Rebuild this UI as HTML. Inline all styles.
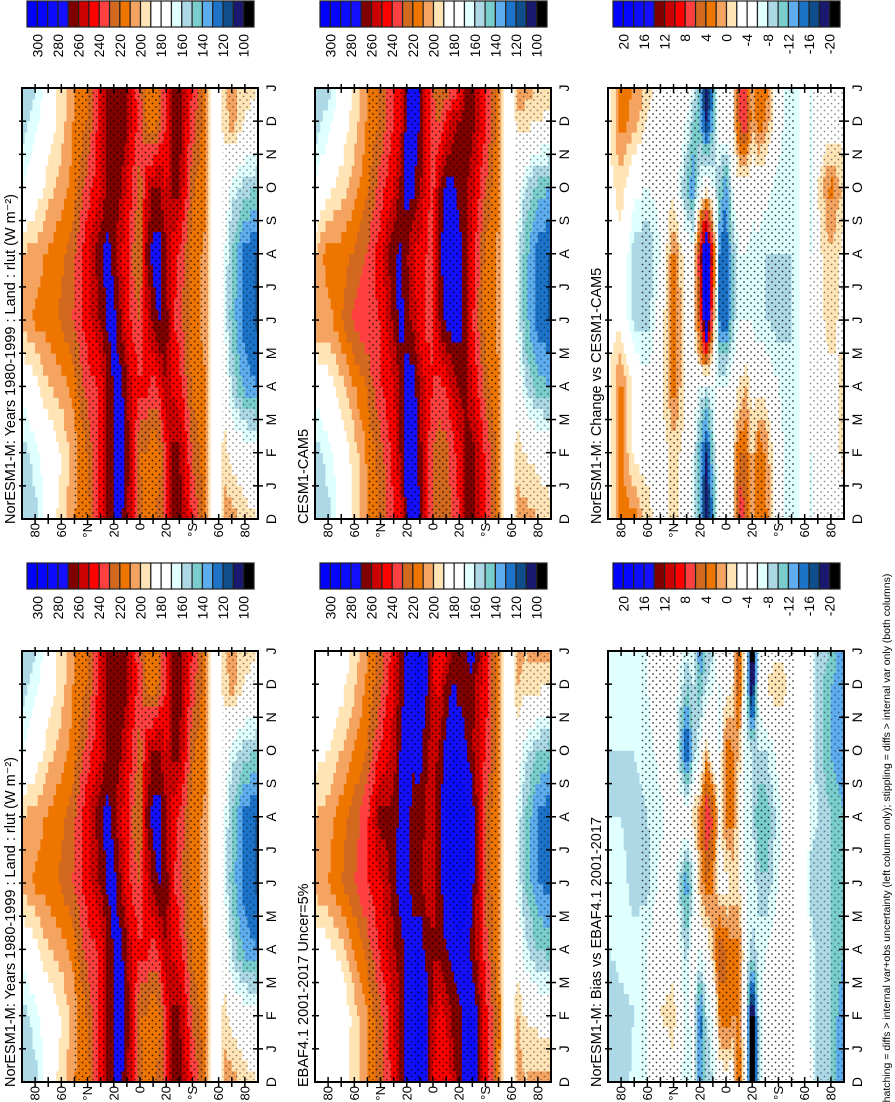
<!DOCTYPE html>
<html><head><meta charset="utf-8"><title>rlut land zonal-mean seasonal cycle</title>
<style>
html,body{margin:0;padding:0;background:#fff;}
svg{display:block;font-family:"Liberation Sans",Arial,sans-serif;}
</style></head>
<body>
<svg id="fig" width="895" height="1102" viewBox="0 0 895 1102" xmlns="http://www.w3.org/2000/svg">
<defs>
<pattern id="stip" width="7" height="7" patternUnits="userSpaceOnUse"><circle cx="2" cy="2" r="0.9" fill="#000"/><circle cx="5.5" cy="5.5" r="0.9" fill="#000"/></pattern>
</defs>
</svg>
<script>
// ---- data grid ----
const LATS = [90,80,70,60,50,40,30,25,20,15,10,5,0,-5,-10,-15,-20,-25,-30,-40,-50,-55,-60,-65,-70,-80,-90];
const TIMES = [0,2,4,6,8,10,12,13]; // months since Dec
const MONTHS = ['D','J','F','M','A','M','J','J','A','S','O','N','D','J'];
const LAT_TICKS = [80,60,40,20,0,-20,-40,-60,-80];
const LAT_LABELS = ['80','60','°N','20','0','20','°S','60','80'];
const ABS_LABELS = ['300','280','260','240','220','200','180','160','140','120','100'];
const DIFF_LABELS = ['20','16','12','8','4','0','-4','-8','-12','-16','-20'];

const noresm = [
[150,155,175,205,200,170,155,152],
[155,165,185,212,205,180,165,158],
[180,178,200,215,212,195,182,180],
[195,190,205,222,218,205,195,195],
[210,205,215,232,228,215,212,210],
[215,222,235,245,248,235,220,218],
[245,245,242,262,268,248,248,248],
[262,262,260,272,275,262,262,262],
[270,272,272,275,265,270,265,265],
[275,275,275,262,250,262,268,270],
[262,265,262,245,245,248,262,262],
[248,245,248,235,228,238,245,245],
[225,218,242,228,220,225,235,232],
[215,218,245,248,262,248,218,215],
[218,208,235,265,275,262,210,210],
[225,218,245,272,275,262,225,225],
[238,242,262,265,262,248,240,240],
[262,262,248,242,245,262,262,262],
[265,262,245,235,238,262,265,265],
[240,228,218,215,215,222,235,238],
[215,215,212,205,208,212,215,215],
[185,185,185,185,185,185,185,185],
[185,185,185,185,185,185,185,185],
[205,195,182,165,168,180,195,200],
[205,185,158,145,150,165,205,205],
[195,180,135,125,125,155,188,195],
[190,175,130,118,118,150,185,190]];

const cesm = [
[150,155,175,210,200,170,155,150],
[155,165,185,205,215,185,165,155],
[178,180,195,220,215,195,180,178],
[192,195,210,232,222,205,195,192],
[210,212,222,238,232,218,212,210],
[222,225,240,240,245,235,222,222],
[238,245,248,262,270,248,240,240],
[245,260,262,275,272,262,248,245],
[275,275,275,265,262,275,275,275],
[278,278,276,255,250,272,278,278],
[272,265,260,245,245,262,270,272],
[248,245,245,238,240,245,248,248],
[228,230,240,238,235,235,235,230],
[220,222,238,262,268,262,228,222],
[225,225,242,275,278,272,240,225],
[232,235,252,278,280,275,255,232],
[240,245,262,276,278,262,262,240],
[262,262,262,262,262,262,262,262],
[265,265,250,242,245,255,265,265],
[240,238,225,215,218,230,240,240],
[215,215,210,208,208,210,215,215],
[185,185,185,185,185,185,185,185],
[185,185,185,185,185,185,185,185],
[205,195,180,165,165,175,195,205],
[205,190,160,145,145,160,195,205],
[200,185,145,125,125,145,190,200],
[195,180,140,118,118,140,185,195]];

const ebaf = [
[170,175,180,205,200,185,175,170],
[170,175,185,210,205,190,178,172],
[180,178,195,220,215,200,185,180],
[195,195,210,230,225,210,198,195],
[210,210,225,240,238,222,212,210],
[225,228,242,248,265,240,228,225],
[245,248,258,265,262,255,248,245],
[265,262,265,275,275,270,265,265],
[275,275,275,280,280,275,275,275],
[280,280,280,262,262,275,280,280],
[285,285,280,262,265,275,285,285],
[275,278,265,255,258,262,272,275],
[250,255,262,255,258,255,250,250],
[245,245,262,265,268,262,248,245],
[240,250,270,280,282,275,262,245],
[255,262,275,285,285,280,272,258],
[265,265,280,285,285,280,265,265],
[275,278,275,285,285,272,262,270],
[285,285,265,275,278,262,262,282],
[245,245,235,228,228,240,245,245],
[215,218,212,210,210,215,215,215],
[185,185,185,185,185,185,185,185],
[185,185,185,185,185,185,185,185],
[205,200,180,165,165,178,200,205],
[200,190,165,150,150,165,195,200],
[205,185,150,130,128,150,195,205],
[205,180,145,125,122,145,190,205]];

const changeVsCesm = [
[-3,-3,-3,-3,-3,-3,-3,-3],
[3,3,3,-3,-3,-1,3,3],
[3,-3,-3,-9,-9,-5,1,2],
[-1,-3,-5,-9,-10,-6,-2,-1],
[-3,-4,-3,-4,-6,-5,-4,-3],
[-1,-1,3,4,3,-3,-3,-2],
[-3,-3,-3,-3,-4,-11,-6,-3],
[-7,-6,-4,-3,-4,-14,-10,-7],
[-12,-12,-6,6,10,-6,-12,-12],
[-20,-18,-8,22,22,-3,-18,-20],
[-14,-10,-6,4,8,-6,-12,-14],
[-4,-3,-6,-14,-14,-10,-4,-4],
[-3,-3,-6,-16,-16,-14,-3,-3],
[-2,-2,-4,-10,-10,-6,-3,-3],
[8,4,-2,-6,-6,-3,6,8],
[6,4,0,-6,-6,-3,8,6],
[0,-1,-3,-6,-7,-5,1,0],
[4,4,-3,-8,-7,-4,3,4],
[3,2,-3,-8,-8,-5,2,3],
[-5,-5,-6,-9,-8,-7,-5,-5],
[-8,-7,-8,-8,-8,-8,-7,-8],
[-6,-6,-6,-6,-6,-6,-6,-6],
[-3,-3,-3,-3,-3,-3,-3,-3],
[-6,-6,-5,-5,-6,-6,-6,-6],
[-5,-4,-3,-3,-3,-2,-5,-5],
[-4,-4,-3,-1,0,3,-4,-4],
[-3,-1,-1,-3,-3,-1,-3,-3]];

const biasVsEbaf = [
[-10,-10,-8,-6,-8,-8,-8,-8],
[-10,-9,-7,-7,-8,-8,-7,-7],
[-7,-8,-7,-9,-9,-8,-7,-7],
[-6,-6,-6,-9,-8,-7,-6,-6],
[-4,-2,-3,-5,-7,-5,-4,-4],
[-3,-1,-3,-4,-4,-3,-4,-3],
[-8,-7,-9,-14,-3,-18,-10,-8],
[-6,-5,-4,-8,-1,-10,-8,-6],
[-14,-16,-6,0,2,-6,-12,-14],
[-10,-8,-4,4,8,0,-8,-10],
[-8,-6,0,2,6,-4,-6,-8],
[-4,2,6,-3,-3,-6,-6,-4],
[-3,4,4,-3,3,4,-4,-3],
[-4,2,3,-2,3,2,-2,-4],
[6,2,3,-2,-3,0,6,6],
[-5,-6,-5,-6,-7,-6,-7,-5],
[-24,-24,-9,-6,-8,-8,-22,-24],
[-8,-8,-7,-9,-12,-8,-5,-8],
[-4,-5,-6,-10,-12,-8,-2,-4],
[-3,-3,-4,-6,-7,-5,0,-3],
[-3,-3,-2,-3,-3,-3,-3,-3],
[-3,-3,-3,-3,-3,-3,-3,-3],
[-3,-3,-3,-3,-3,-3,-3,-3],
[-5,-7,-7,-9,-7,-5,-6,-5],
[-9,-9,-9,-10,-8,-9,-9,-9],
[-10,-10,-10,-10,-10,-12,-12,-10],
[-14,-14,-12,-11,-12,-14,-14,-14]];

// ---- styling ----
const PALETTE = ['#0000ff','#0606ff','#0c0cff','#1410ff','#800000','#cc0000','#ff0000','#ff4040','#d2691e','#ee7600','#f4a460','#ffe4b5','#ffffff','#ffffff','#e0ffff','#add8e6','#79cdcd','#5cacee','#1c73c8','#104e8b','#191970','#000000'];
const NS = 'http://www.w3.org/2000/svg';
const svg = document.getElementById('fig');
const COLX = [22,315,608], ROWY = [88,651], PW = 236, PH = 431;
const CBX = [27,320,613], CBY = [1,563], CBW = 227, CBH = 26;

function mk(tag, attrs, parent){
  const e = document.createElementNS(NS, tag);
  for (const k in attrs) e.setAttribute(k, attrs[k]);
  (parent||svg).appendChild(e);
  return e;
}
function absBin(v){ return Math.max(0, Math.min(21, Math.floor((310 - v)/10))); }
function diffBin(v){ return Math.max(0, Math.min(21, Math.floor((22 - v)/2))); }
function sample(grid, lat, t){
  let i = 0; while (i < LATS.length-2 && lat < LATS[i+1]) i++;
  const fy = (LATS[i]-lat)/(LATS[i]-LATS[i+1]);
  let j = 0; while (j < TIMES.length-2 && t > TIMES[j+1]) j++;
  const fx = (t-TIMES[j])/(TIMES[j+1]-TIMES[j]);
  const a = grid[i][j]*(1-fx)+grid[i][j+1]*fx;
  const b = grid[i+1][j]*(1-fx)+grid[i+1][j+1]*fx;
  return a*(1-fy)+b*fy;
}

const panels = [
 {name:'noresm-climatology', col:0,row:0, grid:noresm, abs:true, title:'NorESM1-M: Years 1980-1999 : Land : rlut (W m\u207B\u00B2)'},
 {name:'cesm-climatology', col:1,row:0, grid:cesm, abs:true, title:'CESM1-CAM5'},
 {name:'change-vs-cesm', col:2,row:0, grid:changeVsCesm, abs:false, title:'NorESM1-M: Change vs CESM1-CAM5'},
 {name:'noresm-climatology-2', col:0,row:1, grid:noresm, abs:true, title:'NorESM1-M: Years 1980-1999 : Land : rlut (W m\u207B\u00B2)'},
 {name:'ebaf-observations', col:1,row:1, grid:ebaf, abs:true, title:'EBAF4.1 2001-2017 Uncer=5%'},
 {name:'bias-vs-ebaf', col:2,row:1, grid:biasVsEbaf, abs:false, title:'NorESM1-M: Bias vs EBAF4.1 2001-2017'}
];

panels.forEach(p => {
  const x0 = COLX[p.col], y0 = ROWY[p.row];
  const X = lat => x0 + (90-lat)/180*PW;
  const T = t => y0 + PH - t/13*PH;
  const g = mk('g', {});
  
  
  const dl = 2, dt = 1/3;
  for (let lat = 90; lat > -90; lat -= dl) {
    for (let t = 0; t < 13 - 1e-6; t += dt) {
      const v = sample(p.grid, lat - dl/2, t + dt/2);
      const c = PALETTE[p.abs ? absBin(v) : diffBin(v)];
      const r = mk('rect', {x: X(lat).toFixed(2), y: T(t+dt).toFixed(2), width: (PW*dl/180+0.4).toFixed(2), height: (PH*dt/13+0.4).toFixed(2), fill: c}, g);
      
      
    }
  }
  // stippling (approximate significance regions)
  const sLatN = p.abs ? 50 : 65, sLatS = p.abs ? -52 : -52;
  const st = mk('rect', {x:X(sLatN), y:y0+2, width:X(sLatS)-X(sLatN), height:PH-4, fill:'url(#stip)', opacity:0.75});
  
  
  const st2 = mk('rect', {x:X(-63), y:y0+2, width:X(-90)-X(-63), height:PH-4, fill:'url(#stip)', opacity:0.45});
  
  

  const fr = mk('rect', {x:x0, y:y0, width:PW, height:PH, fill:'none', stroke:'#000', 'stroke-width':2});
  
  
  for (let lat = -80; lat <= 80; lat += 10) {
    const x = X(lat);
    mk('line', {x1:x, y1:y0+PH-5, x2:x, y2:y0+PH+5, stroke:'#000', 'stroke-width':1.5});
    mk('line', {x1:x, y1:y0-4, x2:x, y2:y0+5, stroke:'#000', 'stroke-width':1.5});
  }
  LAT_TICKS.forEach((lat, k) => {
    const x = X(lat), y = y0 + PH + 4;
    const tx = mk('text', {x:x, y:y, 'font-size':13, 'text-anchor':'end', 'dominant-baseline':'central', transform:`rotate(-90 ${x} ${y})`});
    tx.textContent = LAT_LABELS[k];
    
    
  });
  MONTHS.forEach((m, k) => {
    const y = T(k);
    if (k > 0 && k < 13) {
      mk('line', {x1:x0+PW-5, y1:y, x2:x0+PW+5, y2:y, stroke:'#000', 'stroke-width':1.5});
      mk('line', {x1:x0-3, y1:y, x2:x0+4, y2:y, stroke:'#000', 'stroke-width':1.5});
    }
    const x = x0 + PW + 13;
    const tx = mk('text', {x:x, y:y, 'font-size':14, 'text-anchor':'middle', 'dominant-baseline':'central', transform:`rotate(-90 ${x} ${y})`});
    tx.textContent = m;
    
    
  });
  const tx0 = x0 - 11, ty0 = y0 + PH + 5;
  const ti = mk('text', {x:tx0, y:ty0, 'font-size':14.5, 'text-anchor':'start', 'dominant-baseline':'central', transform:`rotate(-90 ${tx0} ${ty0})`});
  ti.textContent = p.title;
  
  
  const cx = CBX[p.col], cy = CBY[p.row], bw = CBW/22;
  PALETTE.forEach((c, k) => {
    const b = mk('rect', {x:cx + k*bw, y:cy, width:bw, height:CBH, fill:c, stroke:'#222', 'stroke-width':1.2});
    
    
  });
  const labels = p.abs ? ABS_LABELS : DIFF_LABELS;
  labels.forEach((s, k) => {
    const x = cx + (2*k+1)*bw, y = cy + CBH + 7;
    const tx = mk('text', {x:x, y:y, 'font-size':14, 'text-anchor':'end', 'dominant-baseline':'central', transform:`rotate(-90 ${x} ${y})`});
    tx.textContent = s;
    
    
  });
});

const fx = 887, fy = 838;
const foot = mk('text', {x:fx, y:fy, 'font-size':10.5, 'text-anchor':'middle', 'dominant-baseline':'central', transform:`rotate(-90 ${fx} ${fy})`});
foot.textContent = 'hatching = diffs > internal var+obs uncertainty (left column only); stippling = diffs > internal var only (both columns)';


</script>
</body></html>
